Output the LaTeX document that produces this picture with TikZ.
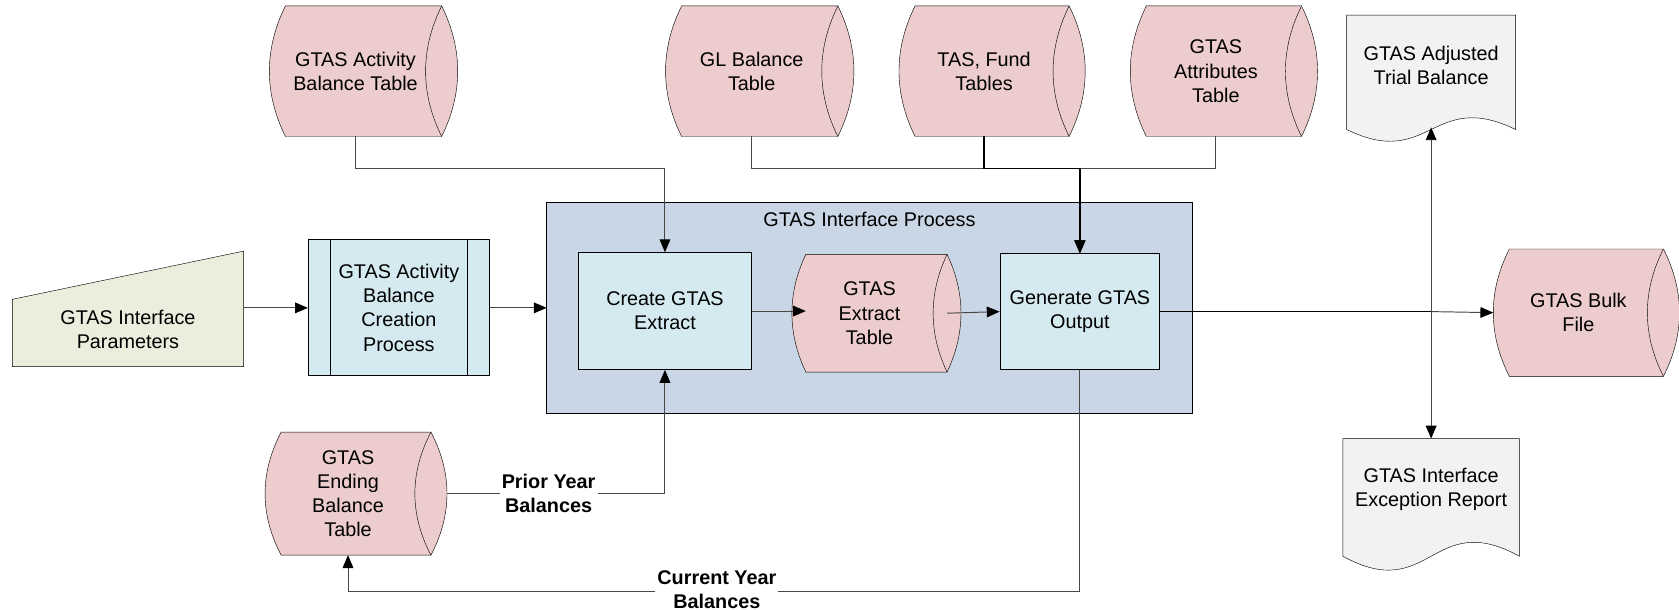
\documentclass[tikz,border=0pt]{standalone}
\usepackage{fontspec}
\setmainfont{Liberation Sans}
\usetikzlibrary{arrows.meta,backgrounds}
\definecolor{drumred}{RGB}{236,204,204}
\definecolor{procblue}{RGB}{212,234,240}
\definecolor{groupblue}{RGB}{201,214,229}
\definecolor{inputgreen}{RGB}{234,238,220}
\definecolor{docgray}{RGB}{242,242,242}
\definecolor{linegray}{RGB}{72,72,72}
\tikzset{
  every node/.style={font=\fontsize{18.5}{22.5}\selectfont, align=center},
  drum/.style={rectangle},
  procbox/.style={rectangle, draw, fill=procblue},
  docbox/.style={rectangle},
  flow/.style={draw=linegray, -{Triangle[length=12pt,width=10pt,color=black]}},
  lbl/.style={fill=white, inner sep=2pt, font=\fontsize{18.5}{22.5}\selectfont\bfseries},
}
\begin{document}
\begin{tikzpicture}[x=1pt, y=-1pt, line width=0.9pt]
  \useasboundingbox (0,0) rectangle (1568,569);
  % group
  \node (ifproc) [rectangle, minimum width=602pt, minimum height=196pt] at (812,287) {};
  \node (iftitle) at (812,205) {GTAS Interface Process};
  % tables
  \node (actbal) [drum, minimum width=130pt, minimum height=121pt] at (332,66.5) {GTAS Activity\\Balance Table};
  \node (glbal) [drum, minimum width=130pt, minimum height=121pt] at (702,66.5) {GL Balance\\Table};
  \node (tasfund) [drum, minimum width=128pt, minimum height=121pt] at (919,66.5) {TAS, Fund\\Tables};
  \node (attrtbl) [drum, minimum width=129pt, minimum height=121pt] at (1135.5,66.5) {GTAS\\Attributes\\Table};
  \node (exttbl) [drum, minimum width=118pt, minimum height=109pt] at (812,292.5) {GTAS\\Extract\\Table};
  \node (bulk) [drum, minimum width=128pt, minimum height=118pt] at (1474,292) {GTAS Bulk\\File};
  \node (endbal) [drum, minimum width=124pt, minimum height=114pt] at (325,461) {GTAS\\Ending\\Balance\\Table};
  % processes
  \node (actproc) [procbox, minimum width=169pt, minimum height=127pt] at (372.5,287.5) {GTAS Activity\\Balance\\Creation\\Process};
  \draw ([xshift=21pt]actproc.north west) -- ([xshift=21pt]actproc.south west)
        ([xshift=-21pt]actproc.north east) -- ([xshift=-21pt]actproc.south east);
  \node (create) [procbox, minimum width=162pt, minimum height=109pt] at (621,290.5) {Create GTAS\\Extract};
  \node (gen) [procbox, minimum width=149pt, minimum height=108pt] at (1008.5,291) {Generate GTAS\\Output};
  % input and reports
  \node (params) [rectangle, minimum width=215pt, minimum height=68pt] at (119.5,308) {GTAS Interface\\Parameters};
  \node (adjtb) [docbox, minimum width=157pt, minimum height=94pt] at (1336.5,61.5) {GTAS Adjusted\\Trial Balance};
  \node (excrep) [docbox, minimum width=164pt, minimum height=94pt] at (1336.5,457) {GTAS Interface\\Exception Report};
  \begin{scope}[on background layer]
    \filldraw[fill=groupblue] (ifproc.north west) rectangle (ifproc.south east);
    \filldraw[fill=inputgreen] (params.south west) -- (params.south east) -- ([yshift=39pt]params.north east)
      -- ([yshift=-6pt]params.north west) -- cycle;
    \filldraw[fill=docgray] ([yshift=-12pt]adjtb.south west) -- (adjtb.north west) -- (adjtb.north east)
      -- ([yshift=-12pt]adjtb.south east)
      .. controls +(-78,-38) and +(78,38) .. ([yshift=-12pt]adjtb.south west);
    \filldraw[fill=docgray] ([yshift=-15pt]excrep.south west) -- (excrep.north west) -- (excrep.north east)
      -- ([yshift=-15pt]excrep.south east)
      .. controls +(-82,-45) and +(82,45) .. ([yshift=-15pt]excrep.south west);
    \foreach \n/\r/\h in {actbal/15/121, glbal/15/121, tasfund/15/121, attrtbl/15/121,
                          exttbl/13/109, bulk/15/118, endbal/15/114} {
      \filldraw[fill=drumred] (\n.north west) -- ([xshift=\r pt]\n.north east)
        .. controls +({4*\r/3},{\h/3}) and +({4*\r/3},{-\h/3}) .. ([xshift=\r pt]\n.south east) -- (\n.south west)
        .. controls +({-4*\r/3},{-\h/3}) and +({-4*\r/3},{\h/3}) .. (\n.north west) -- cycle;
      \draw ([xshift=\r pt]\n.north east)
        .. controls +({-4*\r/3},{\h/3}) and +({-4*\r/3},{-\h/3}) .. ([xshift=\r pt]\n.south east);
    }
  \end{scope}
  % connectors
  \draw[flow] (actbal.south) -- ++(0,30) -| (create.north);
  \draw[flow] (glbal.south) -- ++(0,30) -| (gen.north);
  \draw[flow] (attrtbl.south) -- ++(0,30) -| (gen.north);
  \draw[flow, draw=black, line width=1.4pt] (tasfund.south) -- ++(0,30) -| (gen.north);
  \draw[flow] (params.east |- actproc.west) -- (actproc.west);
  \draw[flow] (actproc.east) -- (actproc.east -| ifproc.west);
  \draw[flow] (create.east) -- (create.east -| exttbl.west);
  \draw[flow] ([xshift=13pt]exttbl.east) -- (gen.west);
  \coordinate (split) at (adjtb.south |- gen.east);
  \draw[line width=1.4pt] (gen.east) -- (split);
  \draw[flow] (split) -- ([xshift=-15pt]bulk.west);
  \draw[flow] (split) -- ([yshift=-10pt]adjtb.south);
  \draw[flow] (split) -- (excrep.north);
  \draw[flow] ([xshift=30pt]endbal.east) -| node[lbl, pos=0.233] {Prior Year\\Balances} (create.south);
  \draw[flow] (gen.south) -- ++(0,207) -| node[lbl, pos=0.248, yshift=2pt] {Current Year\\Balances} (endbal.south);
\end{tikzpicture}
\end{document}
